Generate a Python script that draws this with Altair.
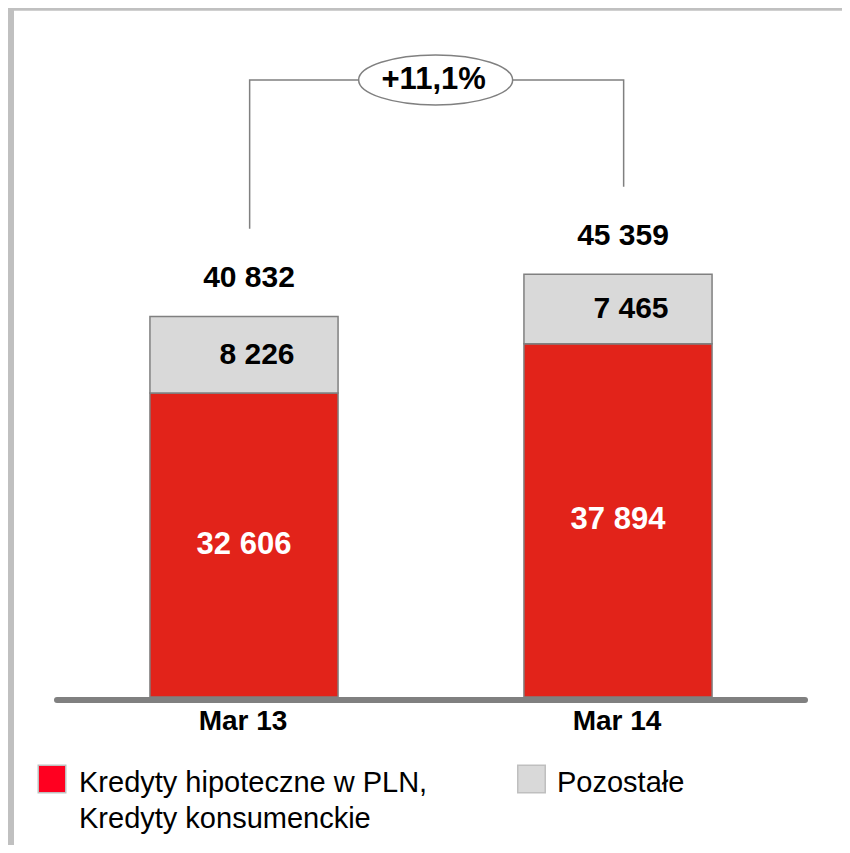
import altair as alt
import pandas as pd

# ---- data ----
categories = ["Mar 13", "Mar 14"]
series_names = ["Kredyty hipoteczne w PLN, Kredyty konsumenckie", "Pozostałe"]
legend_texts = ["Kredyty hipoteczne w PLN,\nKredyty konsumenckie", "Pozostałe"]
mortgage_consumer = [32606, 37894]
other = [8226, 7465]

# ---- styles ----
FONT = "Liberation Sans"
bar_colors = ["#E2231A", "#D9D9D9"]
legend_colors = ["#FF0020", "#D9D9D9"]
GRAY_LINE = "#808080"


def fmt(v):
    return f"{v:,}".replace(",", " ")


totals = [a + b for a, b in zip(mortgage_consumer, other)]
growth = (totals[1] / totals[0] - 1) * 100
growth_label = f"+{growth:.1f}%".replace(".", ",")

rows = []
for i, c in enumerate(categories):
    r, g = mortgage_consumer[i], other[i]
    rows.append(dict(cat=c, series=series_names[0], y0=0, y1=r, mid=r / 2, label=fmt(r)))
    rows.append(dict(cat=c, series=series_names[1], y0=r, y1=r + g, mid=r + g / 2, label=fmt(g)))
bars_df = pd.DataFrame(rows)

tot_df = pd.DataFrame(dict(cat=categories, total=totals, label=[fmt(t) for t in totals], zero=[0, 0]))

gap = 9400
level = max(totals) + 20850
conn_df = pd.DataFrame(dict(
    cat=[categories[0], categories[0], categories[1], categories[1]],
    y=[totals[0] + gap, level, level, totals[1] + gap],
    step=[0, 1, 2, 3],
))
badge_df = pd.DataFrame(dict(cat=[categories[0]], y=[level], label=[growth_label]))
base_df = pd.DataFrame({"y": [-330]})
one = pd.DataFrame({"k": [0]})

W, H = 834, 837
xscale = alt.Scale(domain=categories, range=[49, 797], paddingInner=0.497, paddingOuter=0.2485)
yscale = alt.Scale(domain=[0, 73927], range=[689, 0], nice=False, zero=False)

X = alt.X("cat:N", scale=xscale, axis=None)
XB = alt.X("cat:N", scale=xscale, axis=None, bandPosition=0.53)

# frame
frame_top = alt.Chart(one).mark_rule(color="#C0C0C0", strokeWidth=5.5).encode(
    x=alt.value(0), x2=alt.value(W), y=alt.value(0))
frame_left = alt.Chart(one).mark_rule(color="#C0C0C0", strokeWidth=6).encode(
    x=alt.value(3), y=alt.value(0), y2=alt.value(H))

# baseline
baseline = alt.Chart(base_df).mark_rule(color=GRAY_LINE, strokeWidth=6, strokeCap="round").encode(
    x=alt.value(49), x2=alt.value(797), y=alt.Y("y:Q", scale=yscale, axis=None))

bars = alt.Chart(bars_df).mark_bar(stroke=GRAY_LINE, strokeWidth=1.5).encode(
    x=X,
    y=alt.Y("y1:Q", scale=yscale, axis=None),
    y2="y0:Q",
    color=alt.Color("series:N", scale=alt.Scale(domain=series_names, range=bar_colors), legend=None),
)

red_labels = alt.Chart(bars_df).transform_filter(
    alt.datum.series == series_names[0]
).mark_text(font=FONT, fontSize=31, fontWeight="bold", color="white", baseline="middle").encode(
    x=X, y=alt.Y("mid:Q", scale=yscale), text="label:N")

gray_labels = alt.Chart(bars_df).transform_filter(
    alt.datum.series == series_names[1]
).mark_text(font=FONT, fontSize=30, fontWeight="bold", color="black", baseline="middle", dx=13).encode(
    x=X, y=alt.Y("mid:Q", scale=yscale), text="label:N")

total_labels = alt.Chart(tot_df).mark_text(
    font=FONT, fontSize=30, fontWeight="bold", color="black", baseline="middle", dx=5, dy=-38
).encode(x=X, y=alt.Y("total:Q", scale=yscale), text="label:N")

cat_labels = alt.Chart(tot_df).mark_text(
    font=FONT, fontSize=28, fontWeight="bold", color="black", baseline="middle", dy=25, dx=-1
).encode(x=X, y=alt.Y("zero:Q", scale=yscale), text="cat:N")

connector = alt.Chart(conn_df).mark_line(color=GRAY_LINE, strokeWidth=1.5).encode(
    x=XB, y=alt.Y("y:Q", scale=yscale), order="step:Q")

# ellipse badge drawn as a custom symbol (cubic bezier ellipse, shifted to the middle)
cx, rx, ry, kap = 2.4156, 1.0, 0.3247, 0.5523
ellipse_path = (
    f"M {cx-rx:.4f} 0 "
    f"C {cx-rx:.4f} {-kap*ry:.4f} {cx-kap*rx:.4f} {-ry:.4f} {cx:.4f} {-ry:.4f} "
    f"C {cx+kap*rx:.4f} {-ry:.4f} {cx+rx:.4f} {-kap*ry:.4f} {cx+rx:.4f} 0 "
    f"C {cx+rx:.4f} {kap*ry:.4f} {cx+kap*rx:.4f} {ry:.4f} {cx:.4f} {ry:.4f} "
    f"C {cx-kap*rx:.4f} {ry:.4f} {cx-rx:.4f} {kap*ry:.4f} {cx-rx:.4f} 0 Z"
)
badge = alt.Chart(badge_df).mark_point(
    shape=ellipse_path, size=23716, filled=True, fill="white", stroke=GRAY_LINE, strokeWidth=1.5, opacity=1
).encode(x=XB, y=alt.Y("y:Q", scale=yscale))

badge_text = alt.Chart(badge_df).mark_text(
    font=FONT, fontSize=31, fontWeight="bold", color="black", baseline="middle", dx=184
).encode(x=XB, y=alt.Y("y:Q", scale=yscale), text="label:N")

# legend (manual, positioned below the chart)
leg_pos = [(44, 771, 71), (523.5, 771, 549)]
legend_layers = []
for (sx, sy, tx), txt, col in zip(leg_pos, legend_texts, legend_colors):
    ldf = pd.DataFrame({"t": [txt]})
    legend_layers.append(alt.Chart(ldf).mark_square(
        size=756, fill=col, filled=True, stroke="#BFBFBF", strokeWidth=1.5, opacity=1
    ).encode(x=alt.value(sx), y=alt.value(sy)))
    legend_layers.append(alt.Chart(ldf).mark_text(
        font=FONT, fontSize=29, color="black", align="left", baseline="top", lineBreak="\n", lineHeight=36
    ).encode(x=alt.value(tx), y=alt.value(761), text="t:N"))

chart = alt.layer(
    frame_top, frame_left, baseline, bars, red_labels, gray_labels, total_labels, cat_labels,
    connector, badge, badge_text, *legend_layers
).properties(
    width=W, height=H, autosize=alt.AutoSizeParams(type="none"), padding=0, background="white",
).configure_view(stroke=None)

chart.save("out.html", embed_options={"renderer": "svg", "actions": False})
